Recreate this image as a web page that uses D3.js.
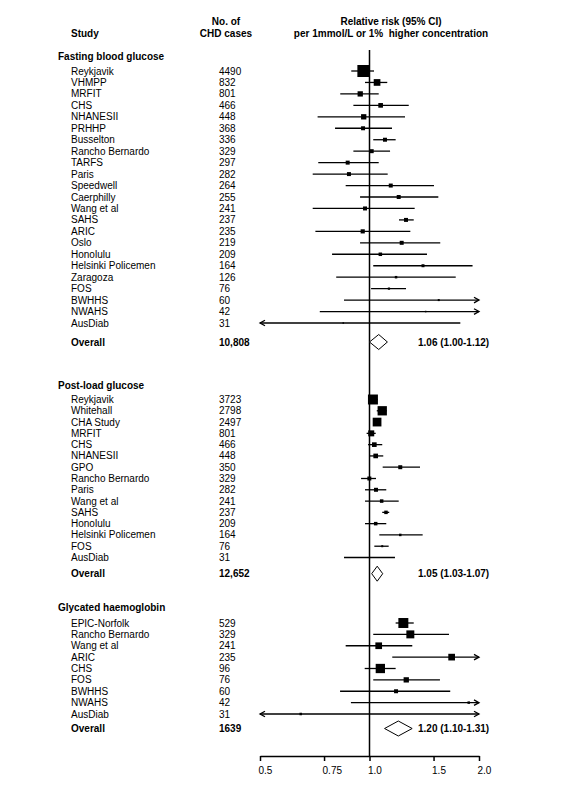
<!DOCTYPE html>
<html>
<head>
<meta charset="utf-8">
<script src="https://cdn.jsdelivr.net/npm/d3@7"></script>
<style>
  html, body { margin: 0; padding: 0; background: #fff; }
  svg { display: block; font-family: "Liberation Sans", Arial, sans-serif; }
  text { white-space: pre; }
</style>
</head>
<body>
<svg id="chart" width="565" height="800"></svg>
<script>
// ---------------- DATA ----------------
const sectionTitles = ["Fasting blood glucose", "Post-load glucose", "Glycated haemoglobin"];

const fastingStudies = ["Reykjavik","VHMPP","MRFIT","CHS","NHANESII","PRHHP","Busselton","Rancho Bernardo","TARFS","Paris","Speedwell","Caerphilly","Wang et al","SAHS","ARIC","Oslo","Honolulu","Helsinki Policemen","Zaragoza","FOS","BWHHS","NWAHS","AusDiab"];
const fastingCases   = ["4490","832","801","466","448","368","336","329","297","282","264","255","241","237","235","219","209","164","126","76","60","42","31"];
const fastingRR      = [0.962,1.049,0.943,1.073,0.964,0.960,1.103,1.014,0.871,0.878,1.144,1.203,0.972,1.260,0.958,1.226,1.071,1.403,1.183,1.131,1.55,1.427,0.847];
const fastingLower   = [0.891,0.972,0.831,0.903,0.720,0.804,1.024,0.903,0.723,0.698,0.860,0.942,0.698,1.205,0.710,0.942,0.789,1.024,0.810,1.010,0.851,0.730,0.45];
const fastingUpper   = [1.029,1.119,1.060,1.282,1.252,1.153,1.180,1.139,1.060,1.122,1.504,1.546,1.331,1.323,1.295,1.565,1.439,1.920,1.726,1.260,2.3,2.6,1.777];
const fastingWeight  = [100,31,19.5,15,19.5,11,11,11,11,11,11,11,11,11,12,11,8.5,6.2,4.3,3.5,2.8,1.6,1.6];

const postStudies = ["Reykjavik","Whitehall","CHA Study","MRFIT","CHS","NHANESII","GPO","Rancho Bernardo","Paris","Wang et al","SAHS","Honolulu","Helsinki Policemen","FOS","AusDiab"];
const postCases   = ["3723","2798","2497","801","466","448","350","329","282","241","237","209","164","76","31"];
const postRR      = [1.022,1.084,1.049,1.011,1.031,1.040,1.215,0.999,1.042,1.080,1.110,1.040,1.215,1.084,1.003];
const postLower   = [0.991,1.047,1.030,0.982,0.991,0.999,1.087,0.948,0.972,0.972,1.084,0.972,1.064,1.031,0.851];
const postUpper   = [1.053,1.115,1.070,1.040,1.084,1.091,1.377,1.042,1.112,1.203,1.133,1.112,1.400,1.129,1.175];
const postWeight  = [69,60,53,25,15,15,11,11,11,8.5,8.5,8.5,4.3,2.8,0.9];

const hbStudies = ["EPIC-Norfolk","Rancho Bernardo","Wang et al","ARIC","CHS","FOS","BWHHS","NWAHS","AusDiab"];
const hbCases   = ["529","329","241","235","96","76","60","42","31"];
const hbRR      = [1.239,1.295,1.060,1.682,1.071,1.262,1.183,1.874,0.647];
const hbLower   = [1.180,1.024,0.860,1.155,0.970,1.024,0.830,0.889,0.40];
const hbUpper   = [1.323,1.654,1.311,2.4,1.180,1.562,1.667,3.2,2.9];
const hbWeight  = [69,44,31,31,60,19.5,11,4.3,4.3];

const overallCases = ["10,808","12,652","1639"];
const overallRR    = [1.06,1.05,1.20];
const overallLower = [1.00,1.03,1.10];
const overallUpper = [1.12,1.07,1.31];
const overallText  = ["1.06 (1.00-1.12)","1.05 (1.03-1.07)","1.20 (1.10-1.31)"];

const tickValues = [0.5,0.75,1.0,1.5,2.0];
const tickLabels = ["0.5","0.75","1.0","1.5","2.0"];

// ---------------- LAYOUT ----------------
const svg = d3.select("#chart");
const x = d3.scaleLog().domain([0.5, 2.0]).range([260, 479]);
const xMin = 0.5, xMax = 2.0;
const nameX = 71, titleX = 58, caseX = 219, estX = 418;
const axisY = 756, refTop = 50;

const sections = [
  {studies: fastingStudies, cases: fastingCases, rr: fastingRR, lo: fastingLower, hi: fastingUpper, w: fastingWeight,
   titleY: 56, firstY: 71, lastY: 323, overallY: 342},
  {studies: postStudies, cases: postCases, rr: postRR, lo: postLower, hi: postUpper, w: postWeight,
   titleY: 385, firstY: 399.5, lastY: 557.5, overallY: 573.7},
  {studies: hbStudies, cases: hbCases, rr: hbRR, lo: hbLower, hi: hbUpper, w: hbWeight,
   titleY: 607, firstY: 623, lastY: 714, overallY: 728.5}
];

const boxSize = d3.scaleSqrt().domain([0, 100]).range([0, 12]);

// ---------------- HEADERS ----------------
const hdr = svg.append("g").attr("font-weight", "bold").attr("font-size", 10).attr("fill", "#000");
hdr.append("text").attr("x", nameX).attr("y", 33).attr("dy", "0.35em").text("Study");
hdr.append("text").attr("x", 226).attr("y", 21).attr("dy", "0.35em").attr("text-anchor", "middle").text("No. of");
hdr.append("text").attr("x", 226).attr("y", 33).attr("dy", "0.35em").attr("text-anchor", "middle").text("CHD cases");
hdr.append("text").attr("x", 391).attr("y", 21).attr("dy", "0.35em").attr("text-anchor", "middle").text("Relative risk (95% CI)");
hdr.append("text").attr("x", 391).attr("y", 33).attr("dy", "0.35em").attr("text-anchor", "middle").text("per 1mmol/L or 1%  higher concentration");

// reference line at 1.0
svg.append("line")
  .attr("x1", x(1)).attr("x2", x(1)).attr("y1", refTop).attr("y2", axisY)
  .attr("stroke", "#000").attr("stroke-width", 1.5);

// ---------------- SECTIONS ----------------
sections.forEach((s, si) => {
  const g = svg.append("g");
  const y = d3.scaleLinear().domain([0, s.studies.length - 1]).range([s.firstY, s.lastY]);

  g.append("text").attr("x", titleX).attr("y", s.titleY).attr("dy", "0.35em")
    .attr("font-size", 10).attr("font-weight", "bold").text(sectionTitles[si]);

  const rows = s.studies.map((name, i) => ({
    name, cases: s.cases[i], rr: s.rr[i], lo: s.lo[i], hi: s.hi[i], w: s.w[i], i
  }));

  g.selectAll("text.name").data(rows).enter().append("text")
    .attr("class", "name").attr("x", nameX).attr("y", d => y(d.i)).attr("dy", "0.35em")
    .attr("font-size", 10).text(d => d.name);

  g.selectAll("text.cases").data(rows).enter().append("text")
    .attr("class", "cases").attr("x", caseX).attr("y", d => y(d.i)).attr("dy", "0.35em")
    .attr("font-size", 10).text(d => d.cases);

  // CI lines
  g.selectAll("line.ci").data(rows).enter().append("line")
    .attr("class", "ci")
    .attr("x1", d => x(Math.max(d.lo, xMin))).attr("x2", d => x(Math.min(d.hi, xMax)))
    .attr("y1", d => y(d.i)).attr("y2", d => y(d.i))
    .attr("stroke", "#000").attr("stroke-width", 1.3);

  // arrows
  const ah = 5, aw = 2.8;
  g.selectAll("path.arrR").data(rows.filter(d => d.hi > xMax)).enter().append("path")
    .attr("class", "arrR")
    .attr("d", d => { const tx = x(xMax), ty = y(d.i); return `M${tx-ah},${ty-aw}L${tx},${ty}L${tx-ah},${ty+aw}`; })
    .attr("fill", "none").attr("stroke", "#000").attr("stroke-width", 1.3);
  g.selectAll("path.arrL").data(rows.filter(d => d.lo < xMin)).enter().append("path")
    .attr("class", "arrL")
    .attr("d", d => { const tx = x(xMin), ty = y(d.i); return `M${tx+ah},${ty-aw}L${tx},${ty}L${tx+ah},${ty+aw}`; })
    .attr("fill", "none").attr("stroke", "#000").attr("stroke-width", 1.3);

  // boxes
  g.selectAll("rect.box").data(rows).enter().append("rect")
    .attr("class", "box")
    .attr("x", d => x(d.rr) - boxSize(d.w) / 2)
    .attr("y", d => y(d.i) - boxSize(d.w) / 2)
    .attr("width", d => boxSize(d.w)).attr("height", d => boxSize(d.w))
    .attr("fill", "#000");

  // overall row
  const oy = s.overallY;
  g.append("text").attr("x", nameX).attr("y", oy).attr("dy", "0.35em")
    .attr("font-size", 10).attr("font-weight", "bold").text("Overall");
  g.append("text").attr("x", caseX).attr("y", oy).attr("dy", "0.35em")
    .attr("font-size", 10).attr("font-weight", "bold").text(overallCases[si]);
  const cx = x(overallRR[si]);
  const lx = Math.min(x(overallLower[si]), cx - 5.5);
  const rx = Math.max(x(overallUpper[si]), cx + 5.5);
  const dh = 7.5;
  g.append("path")
    .attr("d", `M${lx},${oy}L${cx},${oy-dh}L${rx},${oy}L${cx},${oy+dh}Z`)
    .attr("fill", "#fff").attr("stroke", "#000").attr("stroke-width", 1);
  g.append("text").attr("x", estX).attr("y", oy).attr("dy", "0.35em")
    .attr("font-size", 10).attr("font-weight", "bold").text(overallText[si]);
});

// ---------------- AXIS ----------------
const axis = d3.axisBottom(x)
  .tickValues(tickValues)
  .tickFormat((d, i) => tickLabels[i])
  .tickSizeInner(5).tickSizeOuter(0).tickPadding(6);

const ax = svg.append("g").attr("transform", `translate(0,${axisY})`).call(axis);
ax.select(".domain").attr("stroke", "#000").attr("stroke-width", 1.5);
ax.selectAll(".tick line").attr("stroke", "#000").attr("stroke-width", 1.5);
ax.selectAll(".tick text")
  .attr("font-family", "Liberation Sans, Arial, sans-serif")
  .attr("font-size", 10).attr("fill", "#000")
  .attr("text-anchor", "start").attr("dx", -2);
</script>
</body>
</html>
